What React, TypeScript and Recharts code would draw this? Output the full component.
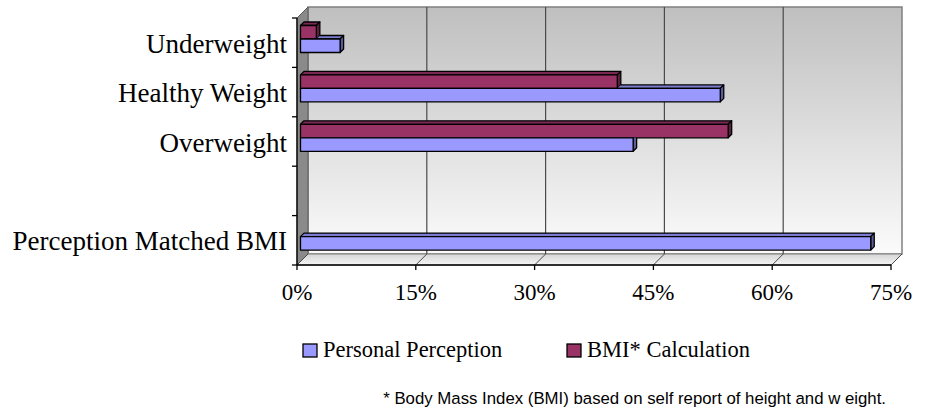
import React from "react";
import { BarChart, Bar, XAxis, YAxis, CartesianGrid, Legend } from "recharts";

const categories = ["Underweight", "Healthy Weight", "Overweight", "", "Perception Matched BMI"];
const personalPerception = [5, 53, 42, null, 72];
const bmiCalculation = [2, 40, 54, null, null];
const percentTicks = [0, 15, 30, 45, 60, 75];

const SERIES = {
  perception: { name: "Personal Perception", front: "#9999FF", top: "#7B7BCF", side: "#5C5C99" },
  bmi: { name: "BMI* Calculation", front: "#993366", top: "#7A2952", side: "#5C1F3D" },
};
const legendOrder = ["perception", "bmi"] as const;

const data = categories.map((name, i) => ({
  name,
  perception: personalPerception[i],
  bmi: bmiCalculation[i],
}));

// front plane of the plot box, and how far the walls recede
const W = 925;
const H = 411;
const LEFT = 297;
const RIGHT = 891;
const TOP = 18;
const BOTTOM = 265;
const DEPTH = 11;
// bars sit a little behind the front plane and have their own shallow depth
const BAR_SHIFT = 3.5;
const BAR_DEPTH = 3.5;

const serif = "'Liberation Serif', 'Times New Roman', serif";
const sans = "'Liberation Sans', Arial, sans-serif";
const edge = { stroke: "#000", strokeWidth: 1.3, strokeLinejoin: "round" as const };

type Colors = { front: string; top: string; side: string };

function Box({ x, y, w, h, c, clipId }: { x: number; y: number; w: number; h: number; c: Colors; clipId?: string }) {
  const x0 = x + BAR_SHIFT;
  const y0 = y - BAR_SHIFT;
  const x1 = x0 + w;
  const y1 = y0 + h;
  const d = BAR_DEPTH;
  return (
    <g>
      <g clipPath={clipId ? `url(#${clipId})` : undefined}>
        <polygon points={`${x0},${y0} ${x0 + d},${y0 - d} ${x1 + d},${y0 - d} ${x1},${y0}`} fill={c.top} {...edge} />
        <polygon points={`${x1},${y0} ${x1 + d},${y0 - d} ${x1 + d},${y1 - d} ${x1},${y1}`} fill={c.side} {...edge} />
      </g>
      <rect x={x0} y={y0} width={w} height={h} fill={c.front} {...edge} />
    </g>
  );
}

const BmiShape = (props: any) => {
  const { x, y, width, height, payload } = props;
  if (!payload.bmi) return <g />;
  return <Box x={x} y={y} w={width} h={height} c={SERIES.bmi} />;
};

// the BMI box sits directly above; its front and side faces hide part of this box's top and side
const PerceptionShape = (props: any) => {
  const { x, y, width, height, payload, index } = props;
  if (!payload.perception) return <g />;
  const unit = width / payload.perception;
  const mw = (payload.bmi ?? 0) * unit;
  const x0 = x + BAR_SHIFT;
  const y0 = y - BAR_SHIFT;
  const id = `pp-hide-${index}`;
  let d = `M-10 -10H${W + 10}V${H + 10}H-10Z`;
  if (mw > 0) {
    const xe = x0 + mw;
    d += ` M${x0} ${y0 - height}H${xe}L${xe + BAR_DEPTH} ${y0 - height - BAR_DEPTH}V${y0 - BAR_DEPTH}L${xe} ${y0}H${x0}Z`;
  }
  return (
    <g>
      <defs>
        <clipPath id={id}>
          <path d={d} clipRule="evenodd" />
        </clipPath>
      </defs>
      <Box x={x} y={y} w={width} h={height} c={SERIES.perception} clipId={id} />
    </g>
  );
};

function CategoryTick(props: any) {
  const { y, payload, index } = props;
  const half = payload?.offset || (BOTTOM - TOP) / categories.length / 2;
  return (
    <g>
      {index === 0 && <line x1={LEFT - 5} x2={LEFT} y1={y - half} y2={y - half} stroke="#000" strokeWidth={1.3} />}
      <line x1={LEFT - 5} x2={LEFT} y1={y + half} y2={y + half} stroke="#000" strokeWidth={1.3} />
      <text x={LEFT - 10} y={y} dy={10} textAnchor="end" fill="#000" fontSize={27} fontFamily={serif}>
        {payload.value}
      </text>
    </g>
  );
}

// vertical gridlines live on the back wall; short slants on the floor join them to the axis ticks
const BackGridLine = (p: any) => {
  const { x1, y1, x2, y2 } = p;
  const inner = x1 > LEFT + 1 && x1 < RIGHT - 1;
  return (
    <g key={p.key ?? `grid-${p.index}`}>
      {inner && (
        <line x1={x1 + DEPTH} y1={y1 - DEPTH} x2={x2 + DEPTH} y2={y2 - DEPTH} stroke="#4a4a4a" strokeWidth={1.2} />
      )}
      <line x1={x1} y1={y2} x2={x1 + DEPTH} y2={y2 - DEPTH} stroke="#4a4a4a" strokeWidth={1} />
    </g>
  );
};

const legendX = [303, 567];

const renderLegend = () => (
  <svg width={W} height={36} style={{ display: "block" }}>
    {legendOrder.map((k, i) => (
      <g key={k}>
        <rect x={legendX[i]} y={14} width={14} height={13} fill={SERIES[k].front} stroke="#000" strokeWidth={1.3} />
        <text x={legendX[i] + 20} y={27} fontSize={22.5} fontFamily={serif} fill="#000">
          {SERIES[k].name}
        </text>
      </g>
    ))}
  </svg>
);

export default function App() {
  return (
    <div style={{ position: "absolute", left: 0, top: 0, width: W, height: H, background: "#fff" }}>
      <svg width={W} height={H} style={{ position: "absolute", left: 0, top: 0 }}>
        <defs>
          <linearGradient id="backWall" x1="0" y1="0" x2="0" y2="1">
            <stop offset="0" stopColor="#bfbfbf" />
            <stop offset="1" stopColor="#fbfbfb" />
          </linearGradient>
          <linearGradient id="floor" x1="0" y1="0" x2="0" y2="1">
            <stop offset="0" stopColor="#d6d6d6" />
            <stop offset="1" stopColor="#f4f4f4" />
          </linearGradient>
        </defs>
        <rect
          x={LEFT + DEPTH}
          y={TOP - DEPTH}
          width={RIGHT - LEFT}
          height={BOTTOM - TOP}
          fill="url(#backWall)"
          stroke="#808080"
          strokeWidth={1.5}
        />
        <polygon
          points={`${LEFT},${TOP} ${LEFT + DEPTH},${TOP - DEPTH} ${LEFT + DEPTH},${BOTTOM - DEPTH} ${LEFT},${BOTTOM}`}
          fill="#8a8a8a"
          stroke="#5a5a5a"
          strokeWidth={1}
        />
        <polygon
          points={`${LEFT},${BOTTOM} ${LEFT + DEPTH},${BOTTOM - DEPTH} ${RIGHT + DEPTH},${BOTTOM - DEPTH} ${RIGHT},${BOTTOM}`}
          fill="url(#floor)"
          stroke="#808080"
          strokeWidth={1}
        />
        <text x={886} y={404} textAnchor="end" fontSize={16.8} fontFamily={sans} fill="#000">
          * Body Mass Index (BMI) based on self report of height and w eight.
        </text>
      </svg>
      <div style={{ position: "absolute", left: 0, top: 0 }}>
        <BarChart
          width={W}
          height={H}
          data={data}
          layout="vertical"
          margin={{ top: TOP, right: W - RIGHT, bottom: H - BOTTOM - 40, left: 0 }}
          barSize={13.5}
          barGap={0}
        >
          <CartesianGrid horizontal={false} vertical={BackGridLine} />
          <XAxis
            type="number"
            domain={[0, 75]}
            ticks={percentTicks}
            interval={0}
            tickFormatter={(v) => `${v}%`}
            axisLine={{ stroke: "#000", strokeWidth: 1.3 }}
            tickLine={{ stroke: "#000", strokeWidth: 1.3 }}
            tickSize={5}
            tickMargin={14}
            tick={{ fill: "#000", fontSize: 23, fontFamily: serif }}
            height={40}
          />
          <YAxis
            type="category"
            dataKey="name"
            width={LEFT}
            interval={0}
            axisLine={{ stroke: "#000", strokeWidth: 1.3 }}
            tickLine={false}
            tick={<CategoryTick />}
          />
          <Bar dataKey="bmi" name={SERIES.bmi.name} fill={SERIES.bmi.front} shape={BmiShape} isAnimationActive={false} />
          <Bar
            dataKey="perception"
            name={SERIES.perception.name}
            fill={SERIES.perception.front}
            shape={PerceptionShape}
            isAnimationActive={false}
          />
          <Legend
            layout="horizontal"
            verticalAlign="middle"
            align="center"
            content={renderLegend}
            wrapperStyle={{ left: 0, top: 330, width: W, height: 36 }}
          />
        </BarChart>
      </div>
    </div>
  );
}
